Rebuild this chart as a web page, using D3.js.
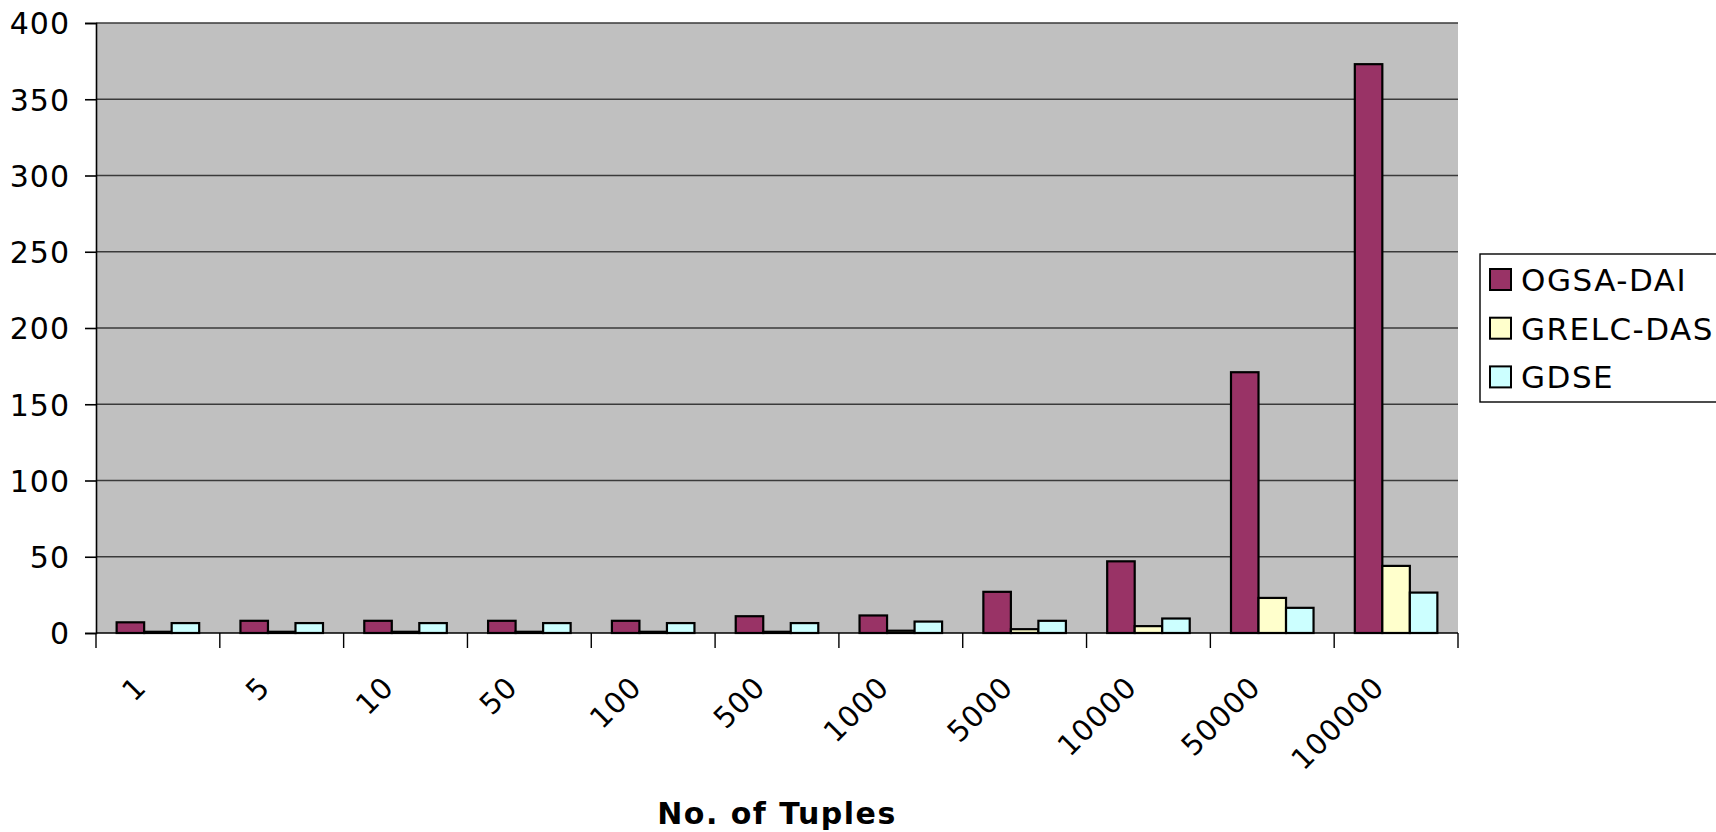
<!DOCTYPE html>
<html lang="en">
<head>
<meta charset="utf-8">
<title>No. of Tuples bar chart</title>
<script src="https://cdn.jsdelivr.net/npm/d3@7"></script>
<style>
  body { margin: 0; background: #fff; }
  svg text { font-family: "DejaVu Sans", Verdana, sans-serif; fill: #000; }
</style>
</head>
<body>
<script>
// data
var categories = ["1", "5", "10", "50", "100", "500", "1000", "5000", "10000", "50000", "100000"];
var seriesNames = ["OGSA-DAI", "GRELC-DAS", "GDSE"];
var ogsaDai  = [7, 8, 8, 8, 8, 11, 11.5, 27, 47, 171, 373];
var grelcDas = [0.8, 0.8, 0.8, 0.8, 0.8, 0.8, 1.5, 2.5, 4.5, 23, 44];
var gdse     = [6.5, 6.5, 6.5, 6.5, 6.5, 6.5, 7.5, 8, 9.5, 16.5, 26.5];
var yTicks = [0, 50, 100, 150, 200, 250, 300, 350, 400];
var colors = ["#993366", "#FFFFCC", "#CCFFFF"];

var W = 1716, H = 832;
var pL = 96, pT = 23, pR = 1458, pB = 633;

var svg = d3.select("body").append("svg")
  .attr("width", W).attr("height", H);

var x = d3.scaleBand().domain(categories).range([pL, pR]).padding(0);
var y = d3.scaleLinear().domain([0, 400]).range([pB, pT]);

var bw = x.bandwidth() / 4.5;   // gap width 150%
var xs = d3.scaleBand().domain(seriesNames)
  .range([bw * 0.75, x.bandwidth() - bw * 0.75]).padding(0);

// plot area
svg.append("rect")
  .attr("x", pL).attr("y", pT)
  .attr("width", pR - pL).attr("height", pB - pT)
  .attr("fill", "#c0c0c0");

// gridlines
svg.append("g").selectAll("line")
  .data(yTicks.filter(function(d) { return d > 0; }))
  .enter().append("line")
  .attr("x1", pL).attr("x2", pR)
  .attr("y1", function(d) { return y(d); })
  .attr("y2", function(d) { return y(d); })
  .attr("stroke", "#3a3a3a").attr("stroke-width", 1.6);

// y axis
var yAxis = svg.append("g")
  .attr("transform", "translate(" + pL + ",0)")
  .call(d3.axisLeft(y).tickValues(yTicks).tickSize(11).tickPadding(15));
yAxis.select(".domain").attr("stroke", "#000").attr("stroke-width", 1.6);
yAxis.selectAll(".tick line").attr("stroke", "#000").attr("stroke-width", 1.6);
yAxis.selectAll("text").style("font-size", "30px").style("letter-spacing", "1px")
  .attr("dy", "0.36em").attr("fill", "#000");

// bars
var table = categories.map(function(c, i) {
  return { cat: c, vals: [ogsaDai[i], grelcDas[i], gdse[i]] };
});

var groups = svg.append("g").selectAll("g")
  .data(table).enter().append("g")
  .attr("transform", function(d) { return "translate(" + x(d.cat) + ",0)"; });

groups.selectAll("rect")
  .data(function(d) {
    return d.vals.map(function(v, j) { return { name: seriesNames[j], v: v, j: j }; });
  })
  .enter().append("rect")
  .attr("x", function(d) { return xs(d.name); })
  .attr("width", xs.bandwidth())
  .attr("y", function(d) { return y(d.v); })
  .attr("height", function(d) { return y(0) - y(d.v); })
  .attr("fill", function(d) { return colors[d.j]; })
  .attr("stroke", "#000").attr("stroke-width", 2.2);

// x axis
svg.append("line")
  .attr("x1", pL).attr("x2", pR)
  .attr("y1", pB).attr("y2", pB)
  .attr("stroke", "#000").attr("stroke-width", 1.6);

var bounds = categories.map(function(c) { return x(c); }).concat([pR]);
svg.append("g").selectAll("line")
  .data(bounds).enter().append("line")
  .attr("x1", function(d) { return d; }).attr("x2", function(d) { return d; })
  .attr("y1", pB).attr("y2", pB + 15)
  .attr("stroke", "#000").attr("stroke-width", 1.4);

svg.append("g").selectAll("text")
  .data(categories).enter().append("text")
  .attr("transform", function(d) {
    return "translate(" + (x(d) + x.bandwidth() / 2 - 10) + "," + (pB + 56) + ") rotate(-45)";
  })
  .attr("text-anchor", "end")
  .style("font-size", "29px").style("letter-spacing", "1px")
  .text(function(d) { return d; });

// axis title
svg.append("text")
  .attr("x", (pL + pR) / 2).attr("y", 824)
  .attr("text-anchor", "middle")
  .style("font-size", "30px").style("font-weight", "bold").style("letter-spacing", "1.5px")
  .text("No. of Tuples");

// legend
var lg = svg.append("g").attr("transform", "translate(1480,254)");
lg.append("rect")
  .attr("x", 0).attr("y", 0).attr("width", 260).attr("height", 148)
  .attr("fill", "#fff").attr("stroke", "#000").attr("stroke-width", 1.4);
var items = lg.selectAll("g.item").data(seriesNames).enter().append("g")
  .attr("transform", function(d, i) { return "translate(10," + (15 + i * 48.7) + ")"; });
items.append("rect")
  .attr("width", 21).attr("height", 21)
  .attr("fill", function(d, i) { return colors[i]; })
  .attr("stroke", "#000").attr("stroke-width", 2);
items.append("text")
  .attr("x", 31).attr("y", 22)
  .style("font-size", "31px").style("letter-spacing", "1.5px")
  .text(function(d) { return d; });
</script>
</body>
</html>
